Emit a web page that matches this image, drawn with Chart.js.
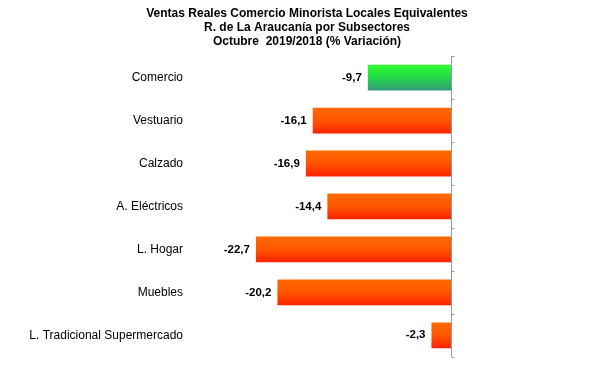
<!DOCTYPE html>
<html>
<head>
<meta charset="utf-8">
<script src="https://cdn.jsdelivr.net/npm/chart.js@4"></script>
<style>
  html, body { margin:0; padding:0; background:#fff; }
  #wrap { width:601px; height:381px; }
</style>
</head>
<body>
<div id="wrap"><canvas id="barChart" width="601" height="381"></canvas></div>
<script>
// ===============================
// DATA
// ===============================
const titleLines = [
  "Ventas Reales Comercio Minorista Locales Equivalentes",
  "R. de La Araucanía por Subsectores",
  "Octubre  2019/2018 (% Variación)"
];
const sectors = [
  "Comercio",
  "Vestuario",
  "Calzado",
  "A. Eléctricos",
  "L. Hogar",
  "Muebles",
  "L. Tradicional Supermercado"
];
const variation = [-9.7, -16.1, -16.9, -14.4, -22.7, -20.2, -2.3];

const BAR_PCT = 0.6;

// gradient per bar, computed from the y scale
function barGradient(c){
  const chart = c.chart;
  const area = chart.chartArea;
  if(!area) return '#ff6600';
  const y = chart.scales.y.getPixelForValue(c.dataIndex);
  const h = (area.bottom - area.top) / sectors.length * BAR_PCT;
  const g = chart.ctx.createLinearGradient(0, y - h/2, 0, y + h/2);
  if(c.dataIndex === 0){
    g.addColorStop(0, '#33ff33');
    g.addColorStop(0.45, '#22dd44');
    g.addColorStop(1, '#339977');
  } else {
    g.addColorStop(0, '#ff6a00');
    g.addColorStop(0.5, '#ff5500');
    g.addColorStop(1, '#ff2200');
  }
  return g;
}

// zero line + small ticks between categories
const zeroAxis = {
  id:'zeroAxis',
  afterDatasetsDraw(chart){
    const {ctx, chartArea, scales} = chart;
    const x0 = Math.round(scales.x.getPixelForValue(0)) + 0.5;
    ctx.save();
    ctx.strokeStyle = '#999';
    ctx.lineWidth = 1;
    ctx.beginPath();
    ctx.moveTo(x0, chartArea.top);
    ctx.lineTo(x0, chartArea.bottom);
    const step = (chartArea.bottom - chartArea.top) / sectors.length;
    for(let i = 0; i <= sectors.length; i++){
      const y = Math.round(chartArea.top + i*step) + 0.5;
      ctx.moveTo(x0, y);
      ctx.lineTo(x0 + 3, y);
    }
    ctx.stroke();
    ctx.restore();
  }
};

// value labels left of each bar
const valueLabels = {
  id:'valueLabels',
  afterDatasetsDraw(chart){
    const {ctx} = chart;
    const meta = chart.getDatasetMeta(0);
    ctx.save();
    ctx.font = 'bold 11.5px "Liberation Sans", Arial, sans-serif';
    ctx.fillStyle = '#000';
    ctx.textAlign = 'right';
    ctx.textBaseline = 'middle';
    meta.data.forEach((bar, i) => {
      const txt = variation[i].toFixed(1).replace('.', ',');
      ctx.fillText(txt, bar.x - 6, bar.y);
    });
    ctx.restore();
  }
};

new Chart(document.getElementById('barChart'), {
  type:'bar',
  data:{
    labels: sectors,
    datasets:[{
      data: variation,
      backgroundColor: barGradient,
      borderWidth: 0,
      barPercentage: BAR_PCT,
      categoryPercentage: 1
    }]
  },
  options:{
    indexAxis:'y',
    responsive:false,
    animation:false,
    layout:{ padding:{ left:13, right:0, top:0, bottom:20 } },
    plugins:{
      legend:{ display:false },
      tooltip:{ enabled:false },
      title:{
        display:true,
        text: titleLines,
        color:'#000',
        font:{ family:'"Liberation Sans", Arial, sans-serif', size:12, weight:'bold', lineHeight:1.17 },
        padding:{ top:7, bottom:7 }
      }
    },
    scales:{
      x:{
        display:false,
        min:-29.2,
        max:17.4
      },
      y:{
        grid:{ display:false, drawTicks:false },
        border:{ display:false },
        ticks:{
          color:'#000',
          padding:17,
          font:{ family:'"Liberation Sans", Arial, sans-serif', size:12 }
        },
        afterFit(scale){ scale.width = 187; }
      }
    }
  },
  plugins:[zeroAxis, valueLabels]
});
</script>
</body>
</html>
